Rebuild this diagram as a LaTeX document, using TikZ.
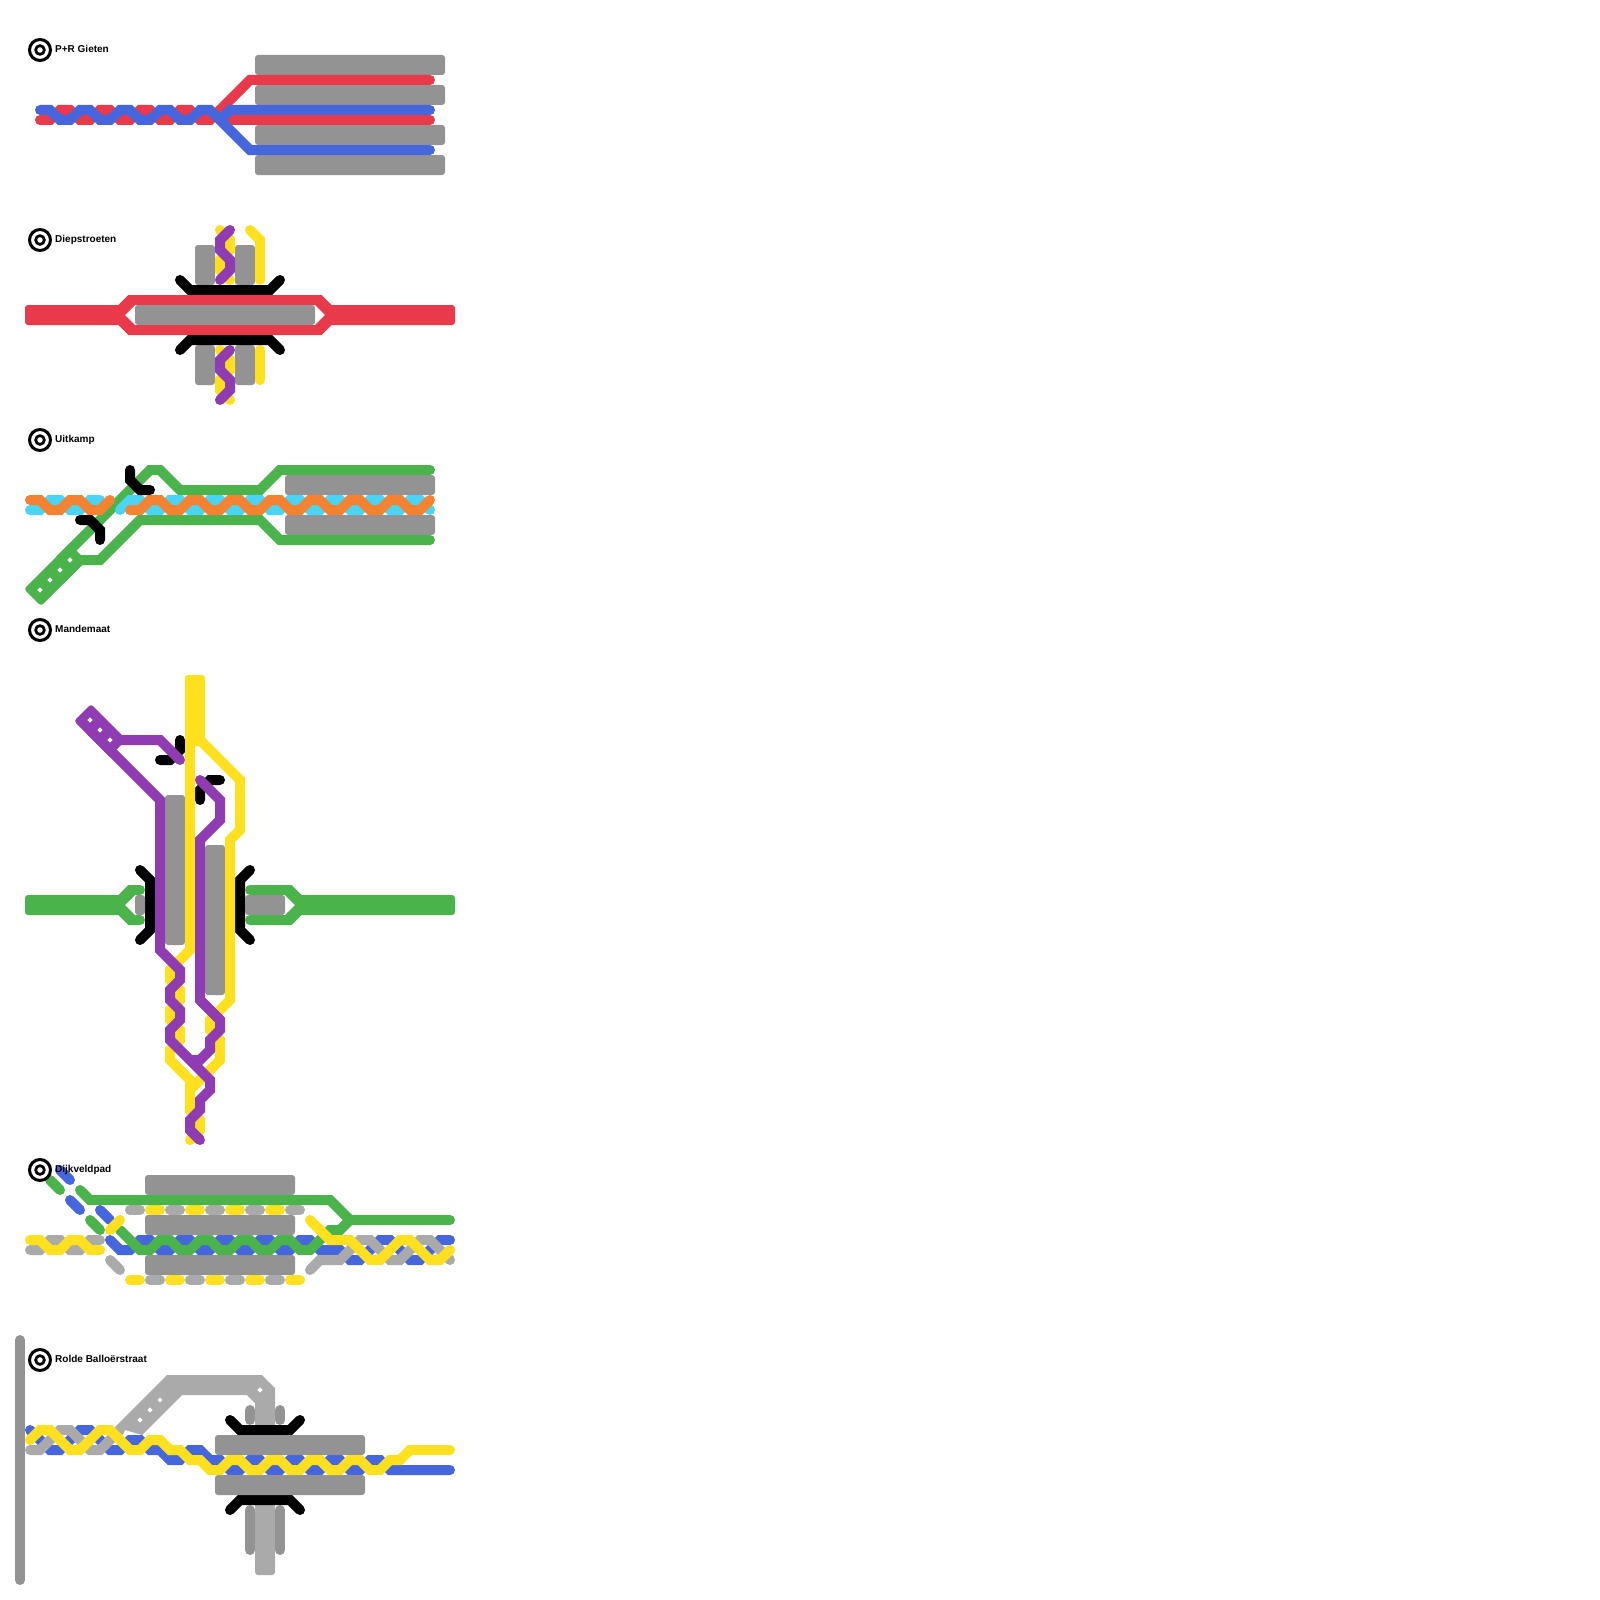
\documentclass[tikz,border=0pt]{standalone}
\usepackage{fontspec}
\setmainfont{Liberation Sans}
\definecolor{cred}{HTML}{E83A4B}
\definecolor{cblue}{HTML}{4566DC}
\definecolor{cgreen}{HTML}{4BB34B}
\definecolor{cyel}{HTML}{FFE01F}
\definecolor{cpur}{HTML}{8F3CB2}
\definecolor{cora}{HTML}{F58230}
\definecolor{ccya}{HTML}{4AD4F5}
\definecolor{dgrey}{HTML}{939393}
\definecolor{lgrey}{HTML}{AAAAAA}
\tikzset{
  ln/.style={line width=10pt,line cap=round,line join=miter,miter limit=4},
  stub/.style={line width=10pt,line cap=butt,line join=miter,miter limit=4},
  box/.style={fill=dgrey,rounded corners=3pt},
  lbl/.style={anchor=base west,inner sep=0pt,font=\bfseries\fontsize{10pt}{12pt}\selectfont,text=black},
}
\newcommand\stationmark[4]{%
  \draw[black,line width=3pt] (40,#2) circle[radius=10.5];
  \draw[black,line width=2.7pt] (40,#2) circle[radius=4.35];
  \node[lbl] (#1) at (55,#3) {#4};}
\newcommand\whitedot[2]{\fill[white] (#1-2.7,#2) -- (#1,#2-2.7) -- (#1+2.7,#2) -- (#1,#2+2.7) -- cycle;}
\begin{document}
\begin{tikzpicture}[x=1pt,y=-1pt]
\useasboundingbox (0,0) rectangle (1600,1600);
\fill[white] (0,0) rectangle (1600,1600);

% --- P+R Gieten
\fill[box] (255,55) rectangle (445,75);
\fill[box] (255,85) rectangle (445,105);
\fill[box] (255,125) rectangle (445,145);
\fill[box] (255,155) rectangle (445,175);
\draw[ln,cred] (40,120)--(50,120)--(60,110)--(70,110)--(80,120)--(90,120)--(100,110)--(110,110)--(120,120)--(130,120)--(140,110)--(150,110)--(160,120)--(170,120)--(180,110)--(190,110)--(200,120)--(210,120)--(220,110)--(250,80)--(430,80);
\draw[ln,cred] (220,110)--(230,120)--(430,120);
\draw[ln,cblue] (40,110)--(50,110)--(60,120)--(70,120)--(80,110)--(90,110)--(100,120)--(110,120)--(120,110)--(130,110)--(140,120)--(150,120)--(160,110)--(170,110)--(180,120)--(190,120)--(200,110)--(210,110)--(220,120)--(250,150)--(430,150);
\draw[ln,cblue] (220,120)--(230,110)--(430,110);

% --- Diepstroeten
\fill[box] (195,245) rectangle (215,285);
\fill[box] (235,245) rectangle (255,285);
\fill[box] (195,345) rectangle (215,385);
\fill[box] (235,345) rectangle (255,385);
\draw[ln,cyel] (220,230)--(230,240)--(230,250)--(220,260)--(220,270)--(230,280);
\draw[ln,cyel] (250,230)--(260,240)--(260,280);
\draw[ln,cyel] (220,350)--(230,360)--(230,370)--(220,380)--(220,390)--(230,400);
\draw[ln,cyel] (260,350)--(260,380);
\draw[ln,cpur] (230,230)--(220,240)--(220,250)--(230,260)--(230,270)--(220,280);
\draw[ln,cpur] (230,350)--(220,360)--(220,370)--(230,380)--(230,390)--(220,400);
\draw[ln,black] (180,280)--(190,290)--(270,290)--(280,280);
\draw[ln,black] (180,350)--(190,340)--(270,340)--(280,350);
\fill[cred,rounded corners=3pt] (25,305) rectangle (121,325);
\fill[cred,rounded corners=3pt] (329,305) rectangle (455,325);
\fill[cred,even odd rule] (118.3,305)--(128.3,295)--(321.7,295)--(331.7,305)--(331.7,325)--(321.7,335)--(128.3,335)--(118.3,325)--cycle
  (125,315)--(135,305)--(315,305)--(325,315)--(315,325)--(135,325)--cycle;
\fill[box] (135,305) rectangle (315,325);

% --- Uitkamp
\fill[box] (285,475) rectangle (435,495);
\fill[box] (285,515) rectangle (435,535);
\draw[ln,ccya] (30,510)--(40,510)--(50,500)--(60,500)--(70,510)--(80,510)--(90,500)--(100,500);
\fill[cgreen] (69.5,543.5) [rounded corners=3pt] -- (24,589) -- (41,606) [sharp corners] -- (86.5,560.5) -- cycle;
\draw[stub,cgreen] (60,560)--(150,470)--(160,470)--(180,490)--(260,490)--(280,470)--(430,470);
\draw[ln,cgreen] (280,470)--(430,470);
\draw[stub,cgreen] (60,580)--(80,560)--(100,560)--(140,520)--(260,520)--(280,540)--(430,540);
\draw[ln,cgreen] (280,540)--(430,540);
\draw[ln,ccya] (120,510)--(130,500)--(140,500)--(150,510)--(160,510)--(170,500)--(180,500)--(190,510)--(200,510)--(210,500)--(220,500)--(230,510)--(240,510)--(250,500)--(260,500)--(270,510)--(280,510)--(290,500)--(300,500)--(310,510)--(320,510)--(330,500)--(340,500)--(350,510)--(360,510)--(370,500)--(380,500)--(390,510)--(400,510)--(410,500)--(420,500)--(430,510);
\draw[ln,cora] (30,500)--(40,500)--(50,510)--(60,510)--(70,500)--(80,500)--(90,510)--(100,510)--(110,500);
\draw[ln,cora] (130,510)--(140,510)--(150,500)--(160,500)--(170,510)--(180,510)--(190,500)--(200,500)--(210,510)--(220,510)--(230,500)--(240,500)--(250,510)--(260,510)--(270,500)--(280,500)--(290,510)--(300,510)--(310,500)--(320,500)--(330,510)--(340,510)--(350,500)--(360,500)--(370,510)--(380,510)--(390,500)--(400,500)--(410,510)--(420,510)--(430,500);
\draw[ln,black] (130,470)--(130,480)--(140,490)--(150,490);
\draw[ln,black] (80,520)--(90,520)--(100,530)--(100,540);
\whitedot{40}{590}\whitedot{50}{580}\whitedot{60}{570}\whitedot{70}{560}

% --- Mandemaat
\draw[ln,black] (140,870)--(150,880)--(150,930)--(140,940);
\draw[ln,black] (250,870)--(240,880)--(240,930)--(250,940);
\draw[ln,black] (180,740)--(180,750)--(170,760)--(160,760);
\draw[ln,black] (220,780)--(210,780)--(200,790)--(200,800);
\fill[box] (135,895) rectangle (145,915);
\fill[box] (245,895) rectangle (285,915);
\fill[cgreen,rounded corners=3pt] (25,895) rectangle (121,915);
\fill[cgreen,rounded corners=3pt] (299,895) rectangle (455,915);
\fill[cgreen] (118.3,895)--(128.3,885)--(140,885)--(140,895)--(135,895)--(125,905)--(135,915)--(140,915)--(140,925)--(128.3,925)--(118.3,915)--cycle;
\fill[cgreen] (250,885)--(291.7,885)--(301.7,895)--(301.7,915)--(291.7,925)--(250,925)--(250,915)--(285,915)--(295,905)--(285,895)--(250,895)--cycle;
\draw[ln,cgreen] (135,890)--(140,890);
\draw[ln,cgreen] (135,920)--(140,920);
\draw[ln,cgreen] (250,890)--(255,890);
\draw[ln,cgreen] (250,920)--(255,920);
\fill[box] (165,795) rectangle (185,945);
\fill[box] (205,845) rectangle (225,995);
\fill[cyel,rounded corners=3pt] (185,675) rectangle (205,746);
\draw[stub,cyel] (190,700)--(190,950)--(170,970)--(170,980)--(180,990)--(180,1000)--(170,1010)--(170,1020)--(180,1030)--(180,1040)--(170,1050)--(170,1060)--(190,1080)--(190,1090);
\draw[stub,cyel] (200,740)--(240,780)--(240,830)--(230,840)--(230,1000)--(210,1020)--(210,1030)--(220,1040)--(220,1060)--(200,1080)--(190,1090)--(190,1110)--(200,1120)--(200,1130)--(190,1140);
\draw[ln,cyel] (200,1130)--(190,1140);
\fill[cpur] (126.5,739.5) [rounded corners=3pt] -- (91,704) -- (74,721) [sharp corners] -- (109.5,756.5) -- cycle;
\draw[ln,cpur] (180,760)--(160,740)--(120,740);
\draw[stub,cpur] (90,730)--(160,800)--(160,950)--(180,970)--(180,980)--(170,990)--(170,1000)--(180,1010)--(180,1020)--(170,1030)--(170,1040)--(210,1080)--(210,1090)--(200,1100)--(200,1110)--(190,1120)--(190,1130)--(200,1140);
\draw[ln,cpur] (190,1130)--(200,1140);
\draw[stub,cpur] (200,1000)--(220,1020)--(220,1030)--(210,1040)--(210,1050)--(200,1060)--(190,1060);
\draw[ln,cpur] (200,780)--(220,800)--(220,820)--(200,840)--(200,1000)--(220,1020);
\whitedot{90}{720}\whitedot{100}{730}\whitedot{110}{740}

% --- Dijkveldpad
\fill[box] (145,1175) rectangle (295,1195);
\fill[box] (145,1215) rectangle (295,1235);
\fill[box] (145,1255) rectangle (295,1275);
\draw[ln,lgrey] (130,1210)--(140,1210);
\draw[ln,cyel] (150,1210)--(160,1210);
\draw[ln,lgrey] (170,1210)--(180,1210);
\draw[ln,cyel] (190,1210)--(200,1210);
\draw[ln,lgrey] (210,1210)--(220,1210);
\draw[ln,cyel] (230,1210)--(240,1210);
\draw[ln,lgrey] (250,1210)--(260,1210);
\draw[ln,cyel] (270,1210)--(280,1210);
\draw[ln,lgrey] (290,1210)--(300,1210);
\draw[ln,cyel] (130,1280)--(140,1280);
\draw[ln,lgrey] (150,1280)--(160,1280);
\draw[ln,cyel] (170,1280)--(180,1280);
\draw[ln,lgrey] (190,1280)--(200,1280);
\draw[ln,cyel] (210,1280)--(220,1280);
\draw[ln,lgrey] (230,1280)--(240,1280);
\draw[ln,cyel] (250,1280)--(260,1280);
\draw[ln,lgrey] (270,1280)--(280,1280);
\draw[ln,cyel] (290,1280)--(300,1280);
\draw[ln,lgrey] (30,1250)--(40,1250)--(50,1240)--(60,1240)--(70,1250)--(80,1250)--(90,1240)--(100,1240);
\draw[ln,cyel] (30,1240)--(40,1240)--(50,1250)--(60,1250)--(70,1240)--(80,1240)--(90,1250)--(100,1250);
\draw[ln,cblue] (60,1170)--(70,1180);
\draw[ln,cblue] (70,1200)--(80,1210);
\draw[ln,cblue] (100,1210)--(110,1220);
\draw[ln,cblue] (110,1240)--(120,1250)--(130,1250)--(140,1240)--(150,1240)--(160,1250)--(170,1250)--(180,1240)--(190,1240)--(200,1250)--(210,1250)--(220,1240)--(230,1240)--(240,1250)--(250,1250)--(260,1240)--(270,1240)--(280,1250)--(290,1250)--(300,1240)--(310,1240)--(320,1250)--(340,1250)--(350,1260)--(360,1260)--(380,1240)--(390,1240)--(410,1260)--(420,1260)--(440,1240)--(450,1240);
\draw[ln,lgrey] (110,1260)--(120,1270);
\draw[ln,lgrey] (310,1270)--(320,1260)--(340,1260)--(360,1240)--(370,1240)--(390,1260)--(400,1260)--(420,1240)--(430,1240)--(450,1260);
\draw[ln,cgreen] (50,1180)--(60,1190);
\draw[ln,cgreen] (90,1220)--(100,1230);
\draw[ln,cgreen] (80,1190)--(90,1200)--(330,1200)--(350,1220)--(450,1220);
\draw[ln,cgreen] (120,1230)--(140,1250)--(150,1250)--(160,1240)--(170,1240)--(180,1250)--(190,1250)--(200,1240)--(210,1240)--(220,1250)--(230,1250)--(240,1240)--(250,1240)--(260,1250)--(270,1250)--(280,1240)--(290,1240)--(300,1250)--(310,1250)--(330,1230)--(340,1230)--(350,1220);
\draw[ln,cyel] (110,1230)--(120,1220);
\draw[ln,cyel] (310,1220)--(330,1240)--(350,1240)--(370,1260)--(380,1260)--(400,1240)--(410,1240)--(430,1260)--(440,1260)--(450,1250);

% --- Rolde Balloerstraat
\draw[ln,cblue] (30,1430)--(50,1450)--(60,1450)--(80,1430)--(90,1430)--(110,1450)--(120,1450)--(130,1440)--(140,1440)--(150,1450)--(160,1450)--(170,1460)--(180,1460)--(190,1450)--(200,1450)--(210,1460)--(220,1460)--(230,1470)--(240,1470)--(250,1460)--(260,1460)--(270,1470)--(280,1470)--(290,1460)--(300,1460)--(310,1470)--(320,1470)--(330,1460)--(340,1460)--(350,1470)--(360,1470)--(370,1460)--(380,1460)--(390,1470)--(450,1470);
\fill[lgrey] (115,1427)--(167,1375)--(262,1375)--(275,1388)--(275,1428)--(255,1428)--(255,1403)--(247,1395)--(182,1395)--(142,1435)--cycle;
\draw[ln,lgrey] (30,1450)--(40,1450)--(60,1430)--(70,1430)--(90,1450)--(100,1450)--(120,1430);
\fill[lgrey,rounded corners=3pt] (255,1500) rectangle (275,1575);
\draw[ln,dgrey] (250,1410)--(250,1420);
\draw[ln,dgrey] (280,1410)--(280,1420);
\draw[ln,dgrey] (250,1510)--(250,1550);
\draw[ln,dgrey] (280,1510)--(280,1550);
\draw[ln,black] (230,1420)--(240,1430)--(290,1430)--(300,1420);
\draw[ln,black] (230,1510)--(240,1500)--(290,1500)--(300,1510);
\fill[box] (215,1435) rectangle (365,1455);
\fill[box] (215,1475) rectangle (365,1495);
\draw[ln,cyel] (30,1440)--(40,1430)--(50,1430)--(70,1450)--(80,1450)--(100,1430)--(110,1430)--(130,1450)--(140,1450)--(150,1440)--(160,1440)--(170,1450)--(180,1450)--(190,1460)--(200,1460)--(210,1470)--(220,1470)--(230,1460)--(240,1460)--(250,1470)--(260,1470)--(270,1460)--(280,1460)--(290,1470)--(300,1470)--(310,1460)--(320,1460)--(330,1470)--(340,1470)--(350,1460)--(360,1460)--(370,1470)--(380,1470)--(390,1460)--(400,1460)--(410,1450)--(450,1450);
\whitedot{140}{1420}\whitedot{150}{1410}\whitedot{160}{1400}\whitedot{260}{1390}
\draw[ln,dgrey] (20,1340)--(20,1580);

% --- station marks and names
\stationmark{sa}{50}{52.7}{P+R Gieten}
\stationmark{sb}{240}{242.7}{Diepstroeten}
\stationmark{sc}{440}{442.7}{Uitkamp}
\stationmark{sd}{630}{632.7}{Mandemaat}
\stationmark{se}{1170}{1172.7}{Dijkveldpad}
\stationmark{sf}{1360}{1362.7}{Rolde Balloërstraat}
\end{tikzpicture}
\end{document}
